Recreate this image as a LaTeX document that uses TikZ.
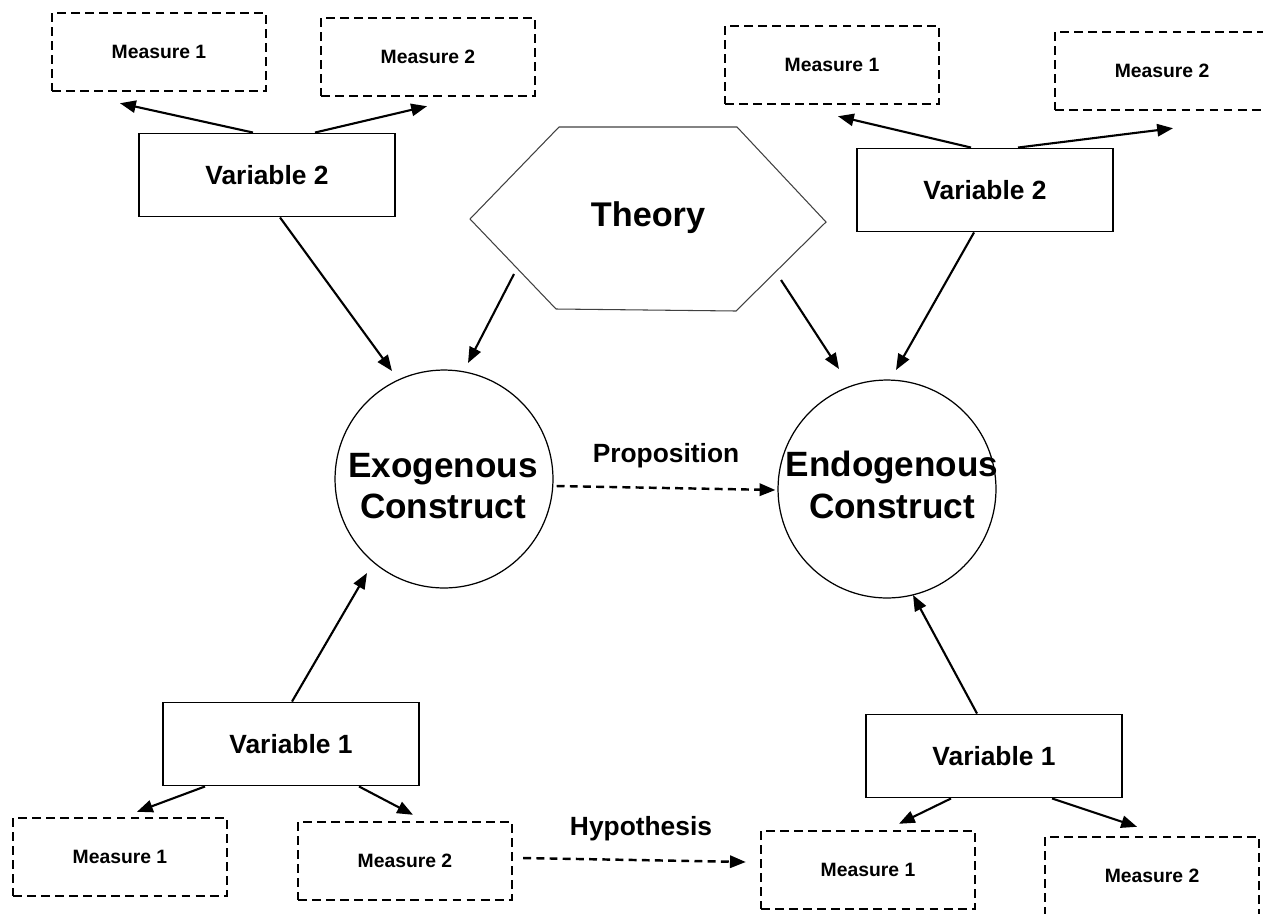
\documentclass[tikz,border=0pt]{standalone}
\usepackage{fontspec}
\setmainfont{Liberation Sans}
\usetikzlibrary{arrows.meta,calc}

\begin{document}
\begin{tikzpicture}[x=0.02cm,y=-0.02cm,
    varbox/.style={draw, line width=1.1pt, minimum width=5.12cm, minimum height=1.66cm, font=\bfseries\fontsize{15}{18}\selectfont},
    measbox/.style={draw, dash pattern=on 5pt off 3pt, line width=1.4pt, minimum width=4.28cm, minimum height=1.56cm, font=\bfseries\fontsize{11}{13}\selectfont},
    construct/.style={draw, circle, line width=0.7pt, minimum size=4.36cm},
    construct-text/.style={align=center, inner sep=0pt, font=\bfseries\fontsize{20}{23.5}\selectfont},
    arr/.style={-{Triangle[length=9pt,width=7pt]}, line width=1.2pt},
    dasharr/.style={arr, line width=1.4pt, dash pattern=on 4.5pt off 3pt},
    linklabel/.style={anchor=base, font=\bfseries\fontsize{15}{18}\selectfont}]
    \useasboundingbox (0,0) rectangle (1263,913);
    % theory in the middle
    \draw[line width=0.6pt, black!75] (470,219) -- (559,127) -- (737,127) -- (826,222) -- (736,311) -- (556,309) -- cycle;
    \node[font=\bfseries\fontsize{19.5}{23}\selectfont] (theory) at (648,218) {Theory};
    % constructs
    \node[construct] (exo) at (444,479) {};
    \node[construct-text] (exo-text) at (443,486) {Exogenous\\Construct};
    \node[construct] (endo) at (887,489) {};
    \node[construct-text] (endo-text) at (892,485) {Endogenous\\Construct};
    % variables
    \node[varbox] (var2-left) at (267,175) {Variable 2};
    \node[varbox] (var2-right) at (985,190) {Variable 2};
    \node[varbox] (var1-left) at (291,744) {Variable 1};
    \node[varbox] (var1-right) at (994,756) {Variable 1};
    % measures
    \node[measbox] (meas1-tl) at (159,52) {Measure 1};
    \node[measbox] (meas2-tl) at (428,57) {Measure 2};
    \node[measbox] (meas1-tr) at (832,65) {Measure 1};
    \node[measbox] (meas2-tr) at (1162,71) {Measure 2};
    \node[measbox] (meas1-bl) at (120,857) {Measure 1};
    \node[measbox] (meas2-bl) at (405,861) {Measure 2};
    \node[measbox] (meas1-br) at (868,870) {Measure 1};
    \node[measbox] (meas2-br) at (1152,876) {Measure 2};

\draw[arr] ($(var2-left.north)+(-14,0)$) -- ($(meas1-tl.south)+(-39,11)$);
\draw[arr] ($(var2-left.north)+(48,0)$) -- ($(meas2-tl.south)+(-1,9)$);
\draw[arr] ($(var2-left.south)+(13,0)$) -- ($(exo.center)+(-52,-108)$);
\draw[arr] ($(theory.center)+(-134,56)$) -- ($(exo.center)+(24,-116)$);
\draw[arr] ($(theory.center)+(133,62)$) -- ($(endo.center)+(-48,-120)$);
\draw[arr] ($(var2-right.south)+(-11,0)$) -- ($(endo.center)+(9,-119)$);
\draw[arr] ($(var2-right.north)+(-14,0)$) -- ($(meas1-tr.south)+(6,11)$);
\draw[arr] ($(var2-right.north)+(33,0)$) -- ($(meas2-tr.south)+(11,17)$);
\draw[arr] ($(var1-left.north)+(1,0)$) -- ($(exo.center)+(-77,94)$);
\draw[arr] ($(var1-left.south)+(-86,0)$) -- ($(meas1-bl.north)+(17,-5)$);
\draw[arr] ($(var1-left.south)+(68,0)$) -- ($(meas2-bl.north)+(8,-6)$);
\draw[arr] ($(var1-right.north)+(-17,0)$) -- ($(endo.center)+(26,106)$);
\draw[arr] ($(var1-right.south)+(-43,0)$) -- ($(meas1-br.north)+(31,-6)$);
\draw[arr] ($(var1-right.south)+(58,0)$) -- ($(meas2-br.north)+(-15,-9)$);
% proposition and hypothesis
\draw[dasharr] ($(exo.east)+(3,7)$) -- ($(endo.west)+(-2,1)$);
\node[linklabel] (proposition) at (666,462) {Proposition};
\draw[dasharr] ($(meas2-bl.east)+(10,-3)$) -- ($(meas1-br.west)+(-14,-8)$);
\node[linklabel] (hypothesis) at (641,835) {Hypothesis};
\end{tikzpicture}
\end{document}
